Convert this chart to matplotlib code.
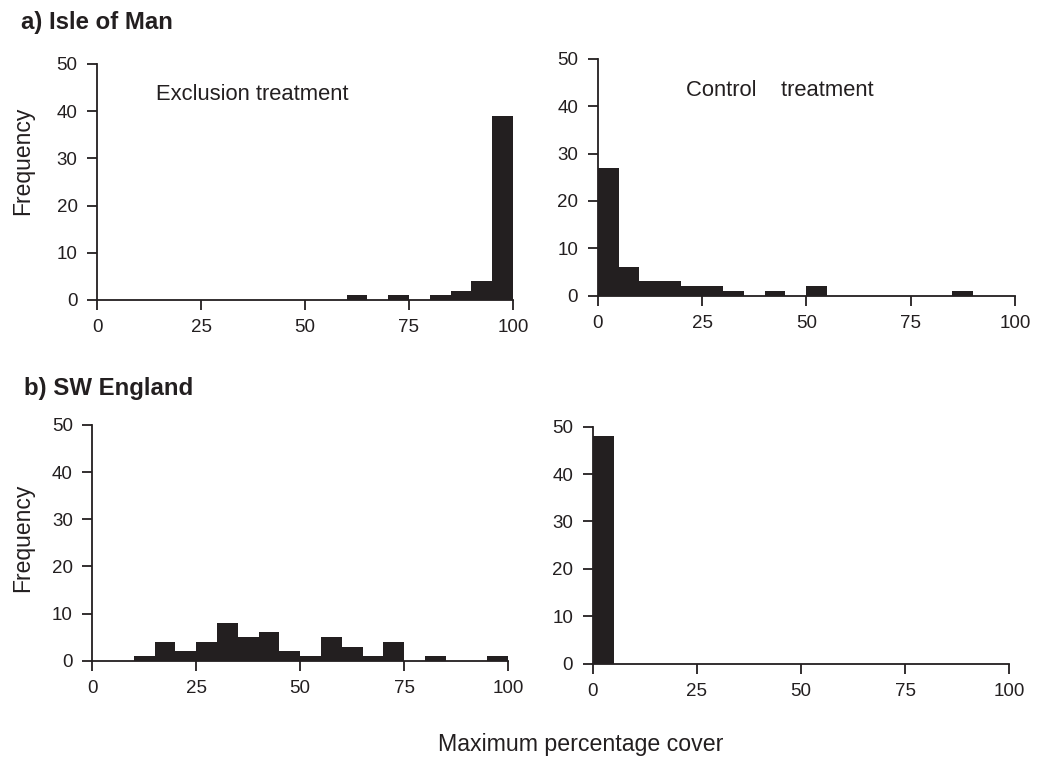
import numpy as np
import matplotlib.pyplot as plt

plt.rcParams['font.family'] = ['Liberation Sans', 'DejaVu Sans']

# bin edges: 0-5, 5-10, ... 95-100
bin_left = np.arange(0, 100, 5)

# frequencies
iom_exclusion = [0, 0, 0, 0, 0, 0, 0, 0, 0, 0, 0, 0, 1, 0, 1, 0, 1, 2, 4, 39]
iom_control = [27, 6, 3, 3, 2, 2, 1, 0, 1, 0, 2, 0, 0, 0, 0, 0, 0, 1, 0, 0]
swe_exclusion = [0, 0, 1, 4, 2, 4, 8, 5, 6, 2, 1, 5, 3, 1, 4, 0, 1, 0, 0, 1]
swe_control = [48, 0, 0, 0, 0, 0, 0, 0, 0, 0, 0, 0, 0, 0, 0, 0, 0, 0, 0, 0]

xticks = [0, 25, 50, 75, 100]
yticks = [0, 10, 20, 30, 40, 50]

bar_col = '#231f20'
ink = '#231f20'

W, H = 1042, 757
fig = plt.figure(figsize=(W / 100, H / 100), dpi=100)


def px(x, y):
    # pixel position (from top left) -> figure fraction
    return x / W, 1 - y / H


positions = [
    [0.0931, 0.6037, 0.3992, 0.3118],
    [0.5736, 0.6094, 0.4005, 0.3130],
    [0.0886, 0.1272, 0.3990, 0.3114],
    [0.5688, 0.1232, 0.3998, 0.3133],
]
series = [iom_exclusion, iom_control, swe_exclusion, swe_control]

axes = []
for pos, vals in zip(positions, series):
    ax = fig.add_axes(pos)
    ax.bar(bin_left, vals, width=5, align='edge', color=bar_col, linewidth=0)
    ax.set_xlim(0, 100)
    ax.set_ylim(0, 50)
    ax.set_xticks(xticks)
    ax.set_yticks(yticks)
    for s in ['top', 'right']:
        ax.spines[s].set_visible(False)
    for s in ['left', 'bottom']:
        ax.spines[s].set_linewidth(1.3)
        ax.spines[s].set_color(ink)
    ax.tick_params(direction='out', length=7, width=1.3, colors=ink,
                   labelsize=13.5, pad=7)
    axes.append(ax)

# axis titles and panel labels
fig.text(*px(23, 161), 'Frequency', rotation=90, fontsize=16.5, color=ink,
         ha='center', va='center')
fig.text(*px(23, 538), 'Frequency', rotation=90, fontsize=16.5, color=ink,
         ha='center', va='center')

fig.text(*px(156, 95), 'Exclusion treatment', fontsize=15.8, color=ink,
         ha='left', va='center')
fig.text(*px(686, 90), 'Control    treatment', fontsize=15.8, color=ink,
         ha='left', va='center')

fig.text(*px(21, 22), 'a) Isle of Man', fontsize=17.3, fontweight='bold',
         color=ink, ha='left', va='center')
fig.text(*px(24, 388), 'b) SW England', fontsize=17.3, fontweight='bold',
         color=ink, ha='left', va='center')
fig.text(*px(438, 745), 'Maximum percentage cover', fontsize=16.7,
         color=ink, ha='left', va='center')

fig.savefig('out.png', dpi=100)
